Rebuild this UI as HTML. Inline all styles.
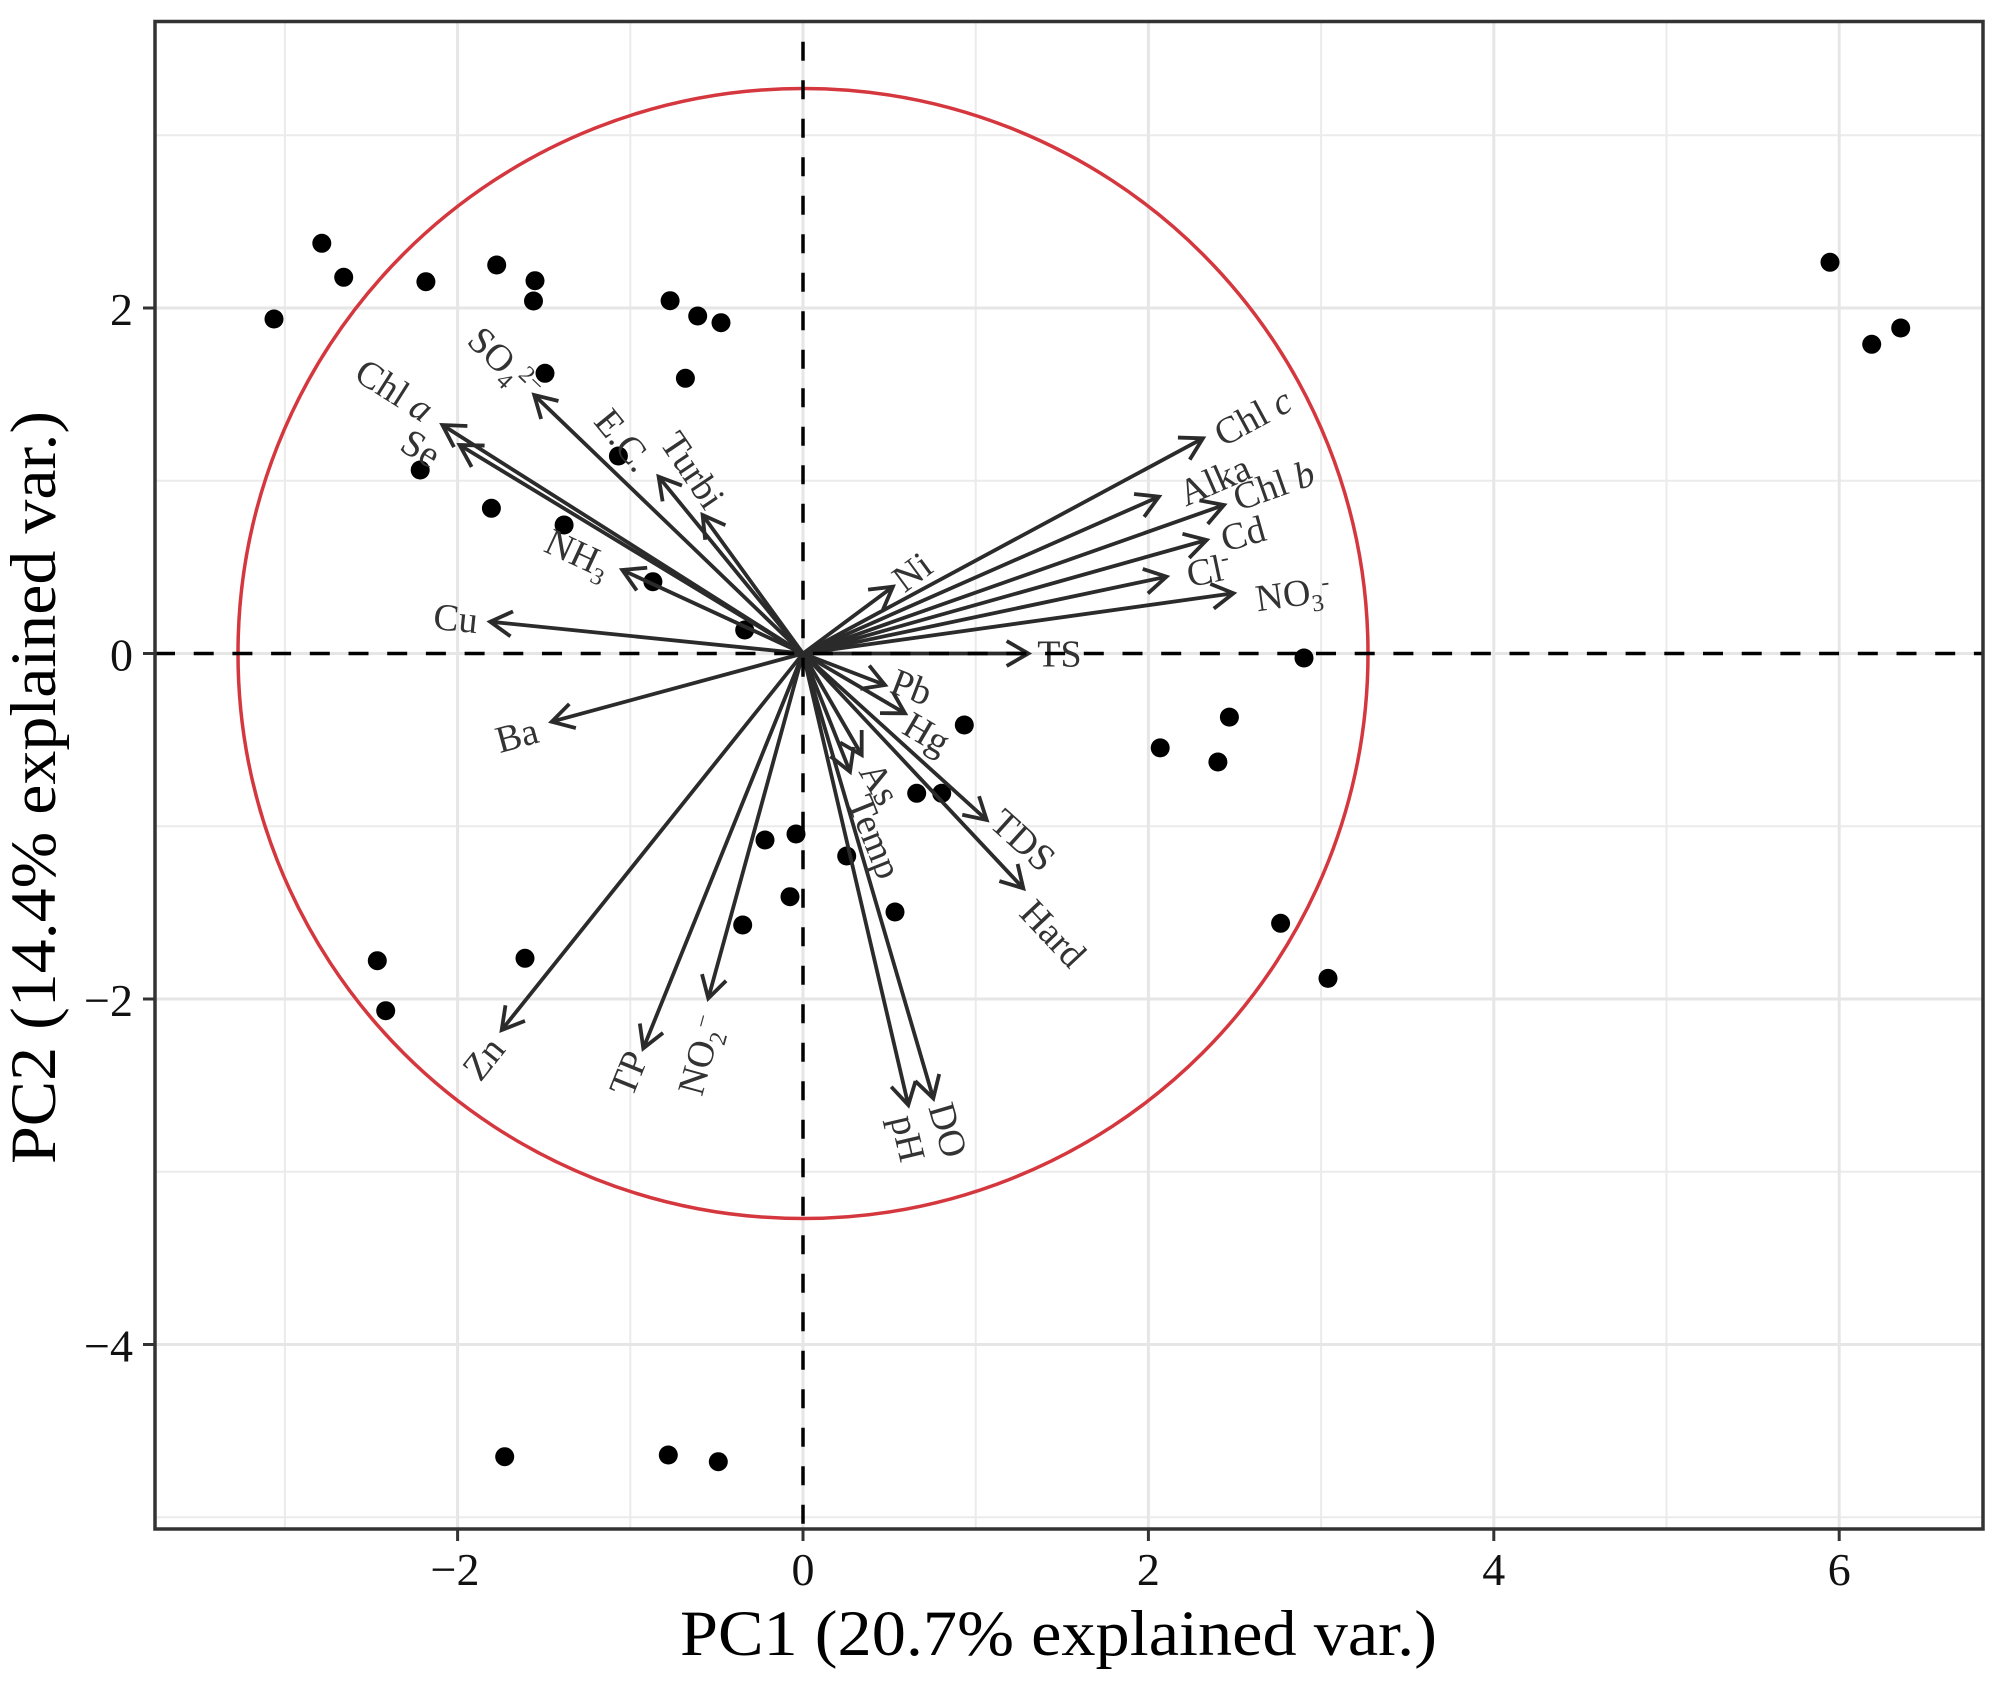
<!DOCTYPE html>
<html>
<head>
<meta charset="utf-8">
<style>
html,body{margin:0;padding:0;background:#fff;}
svg{display:block;}
text{font-family:"Liberation Serif","DejaVu Serif",serif;}
</style>
</head>
<body>
<svg width="2008" height="1692" viewBox="0 0 2008 1692" xmlns="http://www.w3.org/2000/svg">
<defs>
<marker id="ah" markerUnits="userSpaceOnUse" orient="auto" overflow="visible" markerWidth="1" markerHeight="1" refX="0" refY="0">
<path d="M-21.65,-12.5 L0,0 L-21.65,12.5" fill="none" stroke="#2b2b2b" stroke-width="3.8" stroke-linejoin="miter"/>
</marker>
</defs>
<rect x="0" y="0" width="2008" height="1692" fill="#ffffff"/>

<g stroke="#ebebeb" stroke-width="2">
<line x1="284.9" y1="21" x2="284.9" y2="1529"/>
<line x1="630.3" y1="21" x2="630.3" y2="1529"/>
<line x1="975.7" y1="21" x2="975.7" y2="1529"/>
<line x1="1321.1" y1="21" x2="1321.1" y2="1529"/>
<line x1="1666.5" y1="21" x2="1666.5" y2="1529"/>
<line x1="155" y1="135.25" x2="1983" y2="135.25"/>
<line x1="155" y1="480.75" x2="1983" y2="480.75"/>
<line x1="155" y1="826.25" x2="1983" y2="826.25"/>
<line x1="155" y1="1171.75" x2="1983" y2="1171.75"/>
<line x1="155" y1="1517.25" x2="1983" y2="1517.25"/>
</g>
<g stroke="#e6e6e6" stroke-width="3">
<line x1="457.6" y1="21" x2="457.6" y2="1529"/>
<line x1="803" y1="21" x2="803" y2="1529"/>
<line x1="1148.4" y1="21" x2="1148.4" y2="1529"/>
<line x1="1493.8" y1="21" x2="1493.8" y2="1529"/>
<line x1="1839.2" y1="21" x2="1839.2" y2="1529"/>
<line x1="155" y1="308" x2="1983" y2="308"/>
<line x1="155" y1="653.5" x2="1983" y2="653.5"/>
<line x1="155" y1="999" x2="1983" y2="999"/>
<line x1="155" y1="1344.5" x2="1983" y2="1344.5"/>
</g>

<g fill="#000">
<circle cx="321.8" cy="243.3" r="9.5"/>
<circle cx="343.7" cy="277.3" r="9.5"/>
<circle cx="274.0" cy="319" r="9.5"/>
<circle cx="425.9" cy="281.7" r="9.5"/>
<circle cx="496.7" cy="265" r="9.5"/>
<circle cx="535" cy="280.7" r="9.5"/>
<circle cx="533.5" cy="301" r="9.5"/>
<circle cx="670.1" cy="300.7" r="9.5"/>
<circle cx="697.7" cy="316" r="9.5"/>
<circle cx="721" cy="322.7" r="9.5"/>
<circle cx="545" cy="373.3" r="9.5"/>
<circle cx="685.4" cy="378.3" r="9.5"/>
<circle cx="618.4" cy="456" r="9.5"/>
<circle cx="420.2" cy="470" r="9.5"/>
<circle cx="491.4" cy="508.3" r="9.5"/>
<circle cx="564.1" cy="525" r="9.5"/>
<circle cx="652.9" cy="581.7" r="9.5"/>
<circle cx="744.7" cy="630" r="9.5"/>
<circle cx="1830" cy="262.3" r="9.5"/>
<circle cx="1871.7" cy="344.3" r="9.5"/>
<circle cx="1900.7" cy="328" r="9.5"/>
<circle cx="1304" cy="658" r="9.5"/>
<circle cx="1160.2" cy="747.9" r="9.5"/>
<circle cx="1229.4" cy="717.1" r="9.5"/>
<circle cx="1217.9" cy="762" r="9.5"/>
<circle cx="1280.6" cy="923.3" r="9.5"/>
<circle cx="1328" cy="978.4" r="9.5"/>
<circle cx="504.7" cy="1456.7" r="9.5"/>
<circle cx="668.3" cy="1455" r="9.5"/>
<circle cx="718.3" cy="1461.7" r="9.5"/>
<circle cx="765" cy="840" r="9.5"/>
<circle cx="796" cy="834" r="9.5"/>
<circle cx="790" cy="896.7" r="9.5"/>
<circle cx="742.7" cy="925" r="9.5"/>
<circle cx="377.3" cy="960.7" r="9.5"/>
<circle cx="525" cy="958.3" r="9.5"/>
<circle cx="385.7" cy="1010.7" r="9.5"/>
<circle cx="964.3" cy="725" r="9.5"/>
<circle cx="916.7" cy="793.3" r="9.5"/>
<circle cx="941.7" cy="793.3" r="9.5"/>
<circle cx="846.7" cy="856" r="9.5"/>
<circle cx="895" cy="912" r="9.5"/>
</g>

<circle cx="803" cy="653.5" r="565" fill="none" stroke="#d5373e" stroke-width="3.5"/>

<g stroke="#2b2b2b" stroke-width="3.8" fill="none" marker-end="url(#ah)">
<line x1="803" y1="653.5" x2="442.4" y2="425"/>
<line x1="803" y1="653.5" x2="459.6" y2="445"/>
<line x1="803" y1="653.5" x2="534.2" y2="395"/>
<line x1="803" y1="653.5" x2="658.6" y2="476.7"/>
<line x1="803" y1="653.5" x2="702.6" y2="515"/>
<line x1="803" y1="653.5" x2="622.3" y2="570"/>
<line x1="803" y1="653.5" x2="490.2" y2="621.7"/>
<line x1="803" y1="653.5" x2="1202.9" y2="438.3"/>
<line x1="803" y1="653.5" x2="1158.9" y2="496.7"/>
<line x1="803" y1="653.5" x2="1224" y2="505"/>
<line x1="803" y1="653.5" x2="1206.7" y2="540"/>
<line x1="803" y1="653.5" x2="1166.5" y2="576.7"/>
<line x1="803" y1="653.5" x2="1233.5" y2="593.3"/>
<line x1="803" y1="653.5" x2="892.9" y2="586.7"/>
<line x1="803" y1="653.5" x2="1028.3" y2="653.5"/>
<line x1="803" y1="653.5" x2="885" y2="685"/>
<line x1="803" y1="653.5" x2="905" y2="713.3"/>
<line x1="803" y1="653.5" x2="861.7" y2="755"/>
<line x1="803" y1="653.5" x2="850" y2="771.7"/>
<line x1="803" y1="653.5" x2="986.7" y2="820"/>
<line x1="803" y1="653.5" x2="1023.3" y2="888.3"/>
<line x1="803" y1="653.5" x2="908.3" y2="1105"/>
<line x1="803" y1="653.5" x2="933.3" y2="1098.3"/>
<line x1="803" y1="653.5" x2="551.7" y2="721.7"/>
<line x1="803" y1="653.5" x2="501.7" y2="1030"/>
<line x1="803" y1="653.5" x2="643.3" y2="1048.3"/>
<line x1="803" y1="653.5" x2="708.3" y2="998.3"/>
</g>

<g font-size="38" fill="#333" text-anchor="middle">
<text transform="translate(394.6,390) rotate(32.4)" x="0" y="13">Chl <tspan font-style="italic">a</tspan></text>
<text transform="translate(421,448) rotate(31.3)" x="0" y="13">Se</text>
<text transform="translate(505.5,363) rotate(43.9)" x="0" y="13">SO<tspan font-size="24" dy="8">4</tspan><tspan font-size="24" dy="-20">2−</tspan></text>
<text transform="translate(624,440) rotate(50.9)" x="0" y="13">E.C.</text>
<text transform="translate(693,470) rotate(56)" x="0" y="13">Turbi</text>
<text transform="translate(578,553) rotate(24.9)" x="0" y="13">NH<tspan font-size="24" dy="8">3</tspan></text>
<text transform="translate(455.8,618) rotate(5.8)" x="0" y="13">Cu</text>
<text transform="translate(1252.6,416.7) rotate(-28.3)" x="0" y="13">Chl <tspan font-style="italic">c</tspan></text>
<text transform="translate(1214.4,480) rotate(-23.7)" x="0" y="13">Alka</text>
<text transform="translate(1273.7,485) rotate(-19.4)" x="0" y="13">Chl <tspan font-style="italic">b</tspan></text>
<text transform="translate(1243,533.3) rotate(-15.7)" x="0" y="13">Cd</text>
<text transform="translate(1208.6,570) rotate(-11.9)" x="0" y="13">Cl<tspan font-size="24" dy="-14">-</tspan></text>
<text transform="translate(1292.8,593.3) rotate(-8)" x="0" y="13">NO<tspan font-size="24" dy="8">3</tspan><tspan font-size="24" dy="-20">-</tspan></text>
<text transform="translate(912,571.7) rotate(-36.5)" x="0" y="13">Ni</text>
<text transform="translate(1059.4,653.3) rotate(0)" x="0" y="13">TS</text>
<text transform="translate(911.7,686.7) rotate(20.9)" x="0" y="13">Pb</text>
<text transform="translate(927,733) rotate(30.3)" x="0" y="13">Hg</text>
<text transform="translate(880,783.3) rotate(59.7)" x="0" y="13">As</text>
<text transform="translate(875,836.7) rotate(68.1)" x="0" y="13">Temp</text>
<text transform="translate(1023.3,840) rotate(42.1)" x="0" y="13">TDS</text>
<text transform="translate(1053.3,933.3) rotate(46.8)" x="0" y="13">Hard</text>
<text transform="translate(908.3,1138.3) rotate(76.8)" x="0" y="13">pH</text>
<text transform="translate(948.3,1130) rotate(73.6)" x="0" y="13">DO</text>
<text transform="translate(516.7,735) rotate(-15.2)" x="0" y="13">Ba</text>
<text transform="translate(483.3,1058.3) rotate(-51.4)" x="0" y="13">Zn</text>
<text transform="translate(628.3,1073.3) rotate(-68)" x="0" y="13">TP</text>
<text transform="translate(700,1055) rotate(-74.7)" x="0" y="13">NO<tspan font-size="24" dy="8">2</tspan><tspan font-size="24" dy="-20">−</tspan></text>
</g>

<line x1="155" y1="653.5" x2="1983" y2="653.5" stroke="#000" stroke-width="3.5" stroke-dasharray="20 18.7"/>
<line x1="803" y1="21" x2="803" y2="1529" stroke="#000" stroke-width="3.5" stroke-dasharray="19 19.5" stroke-dashoffset="17.8"/>

<rect x="155" y="21.5" width="1828" height="1507.5" fill="none" stroke="#333" stroke-width="3.5"/>

<g stroke="#333" stroke-width="3">
<line x1="457.6" y1="1529" x2="457.6" y2="1541"/>
<line x1="803" y1="1529" x2="803" y2="1541"/>
<line x1="1148.4" y1="1529" x2="1148.4" y2="1541"/>
<line x1="1493.8" y1="1529" x2="1493.8" y2="1541"/>
<line x1="1839.2" y1="1529" x2="1839.2" y2="1541"/>
<line x1="143" y1="308" x2="155" y2="308"/>
<line x1="143" y1="653.5" x2="155" y2="653.5"/>
<line x1="143" y1="999" x2="155" y2="999"/>
<line x1="143" y1="1344.5" x2="155" y2="1344.5"/>
</g>

<g font-size="46" fill="#111" text-anchor="middle">
<text x="455" y="1585">−2</text>
<text x="803" y="1585">0</text>
<text x="1148.4" y="1585">2</text>
<text x="1493.8" y="1585">4</text>
<text x="1839.2" y="1585">6</text>
</g>
<g font-size="46" fill="#111" text-anchor="end">
<text x="133" y="325">2</text>
<text x="133" y="670.5">0</text>
<text x="133" y="1016">−2</text>
<text x="133" y="1361.5">−4</text>
</g>

<text x="1058.5" y="1655" font-size="65" fill="#000" text-anchor="middle" textLength="757" lengthAdjust="spacingAndGlyphs">PC1 (20.7% explained var.)</text>
<text transform="translate(55,787.5) rotate(-90)" x="0" y="0" font-size="65" fill="#000" text-anchor="middle" textLength="753" lengthAdjust="spacingAndGlyphs">PC2 (14.4% explained var.)</text>
</svg>
</body>
</html>
